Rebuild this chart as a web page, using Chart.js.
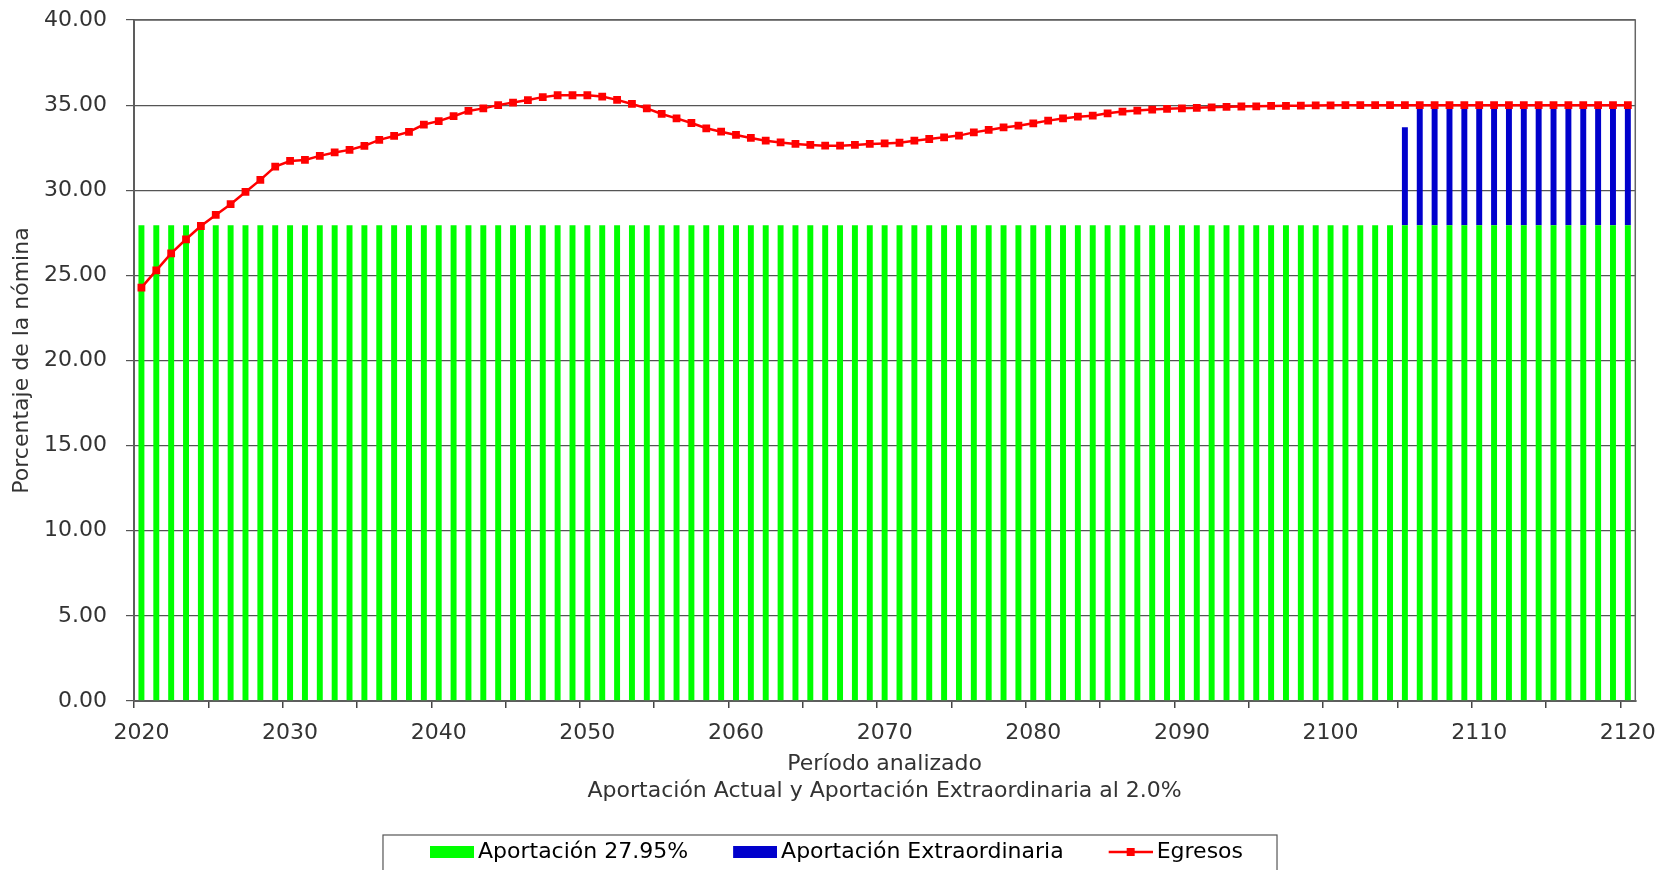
<!DOCTYPE html>
<html>
<head>
<meta charset="utf-8">
<script src="https://cdn.jsdelivr.net/npm/chart.js@4.4.1/dist/chart.umd.min.js"></script>
<style>
  html, body { margin: 0; padding: 0; background: #fff; }
  #wrap { width: 1668px; height: 870px; }
</style>
</head>
<body>
<div id="wrap"><canvas id="chart" width="1668" height="870"></canvas></div>
<script>
// years 2020..2120
const years = [];
for (let y = 2020; y <= 2120; y++) years.push(String(y));

const legendNames = ["Aportación 27.95%", "Aportación Extraordinaria", "Egresos"];
const yTicks = [0, 5, 10, 15, 20, 25, 30, 35, 40];

const aportacion = [
  27.95, 27.95, 27.95, 27.95, 27.95, 27.95, 27.95, 27.95, 27.95, 27.95,
  27.95, 27.95, 27.95, 27.95, 27.95, 27.95, 27.95, 27.95, 27.95, 27.95,
  27.95, 27.95, 27.95, 27.95, 27.95, 27.95, 27.95, 27.95, 27.95, 27.95,
  27.95, 27.95, 27.95, 27.95, 27.95, 27.95, 27.95, 27.95, 27.95, 27.95,
  27.95, 27.95, 27.95, 27.95, 27.95, 27.95, 27.95, 27.95, 27.95, 27.95,
  27.95, 27.95, 27.95, 27.95, 27.95, 27.95, 27.95, 27.95, 27.95, 27.95,
  27.95, 27.95, 27.95, 27.95, 27.95, 27.95, 27.95, 27.95, 27.95, 27.95,
  27.95, 27.95, 27.95, 27.95, 27.95, 27.95, 27.95, 27.95, 27.95, 27.95,
  27.95, 27.95, 27.95, 27.95, 27.95, 27.95, 27.95, 27.95, 27.95, 27.95,
  27.95, 27.95, 27.95, 27.95, 27.95, 27.95, 27.95, 27.95, 27.95, 27.95,
  27.95
];

const extraordinaria = [
  null, null, null, null, null, null, null, null, null, null,
  null, null, null, null, null, null, null, null, null, null,
  null, null, null, null, null, null, null, null, null, null,
  null, null, null, null, null, null, null, null, null, null,
  null, null, null, null, null, null, null, null, null, null,
  null, null, null, null, null, null, null, null, null, null,
  null, null, null, null, null, null, null, null, null, null,
  null, null, null, null, null, null, null, null, null, null,
  null, null, null, null, null, 5.75, 7.05, 7.05, 7.05, 7.05,
  7.05, 7.05, 7.05, 7.05, 7.05, 7.05, 7.05, 7.05, 7.05, 7.05,
  7.05
];

const egresos = [
  24.28, 25.29, 26.29, 27.12, 27.90, 28.55, 29.18, 29.90, 30.61, 31.39,
  31.72, 31.78, 32.02, 32.22, 32.37, 32.61, 32.96, 33.19, 33.43, 33.86,
  34.06, 34.35, 34.66, 34.81, 35.00, 35.15, 35.30, 35.47, 35.58, 35.58,
  35.58, 35.50, 35.31, 35.07, 34.81, 34.48, 34.22, 33.95, 33.64, 33.44,
  33.25, 33.07, 32.91, 32.81, 32.72, 32.66, 32.62, 32.62, 32.66, 32.72,
  32.75, 32.79, 32.91, 33.01, 33.11, 33.21, 33.40, 33.54, 33.69, 33.79,
  33.93, 34.09, 34.22, 34.32, 34.38, 34.52, 34.62, 34.68, 34.74, 34.78,
  34.81, 34.84, 34.87, 34.90, 34.92, 34.93, 34.95, 34.96, 34.97, 34.98,
  34.99, 35.00, 35.00, 35.00, 35.00, 35.00, 35.00, 35.00, 35.00, 35.00,
  35.00, 35.00, 35.00, 35.00, 35.00, 35.00, 35.00, 35.00, 35.00, 35.00,
  35.00
];

const GREEN = "#00ff00";
const BLUE = "#0000cc";
const RED = "#ff0000";
const FONT = "'DejaVu Sans', sans-serif";
const FS = 22;
const BOXW = 74;

// legend swatches drawn on small canvases
function swatch(kind, color) {
  const c = document.createElement("canvas");
  c.width = BOXW + 14;
  c.height = 14;
  const g = c.getContext("2d");
  const x0 = c.width - 44;
  if (kind === "bar") {
    g.fillStyle = color;
    g.fillRect(x0, 1, 44, 12);
  } else {
    g.strokeStyle = color;
    g.lineWidth = 2.5;
    g.beginPath();
    g.moveTo(x0, 7);
    g.lineTo(c.width, 7);
    g.stroke();
    g.fillStyle = color;
    g.fillRect(x0 + 18, 3, 8, 8);
  }
  return c;
}

const framePlugin = {
  id: "frame",
  afterDraw(chart) {
    const { ctx, chartArea: a } = chart;
    ctx.save();
    ctx.strokeStyle = "#666";
    ctx.lineWidth = 1.5;
    ctx.strokeRect(a.left, a.top, a.right - a.left, a.bottom - a.top);
    // legend border
    const hb = chart.legend.legendHitBoxes;
    if (hb && hb.length) {
      const first = hb[0], last = hb[hb.length - 1];
      const cy = first.top + first.height / 2;
      const left = first.left + BOXW / 2 - 47;
      const right = last.left + last.width + 34;
      ctx.strokeStyle = "#555";
      ctx.lineWidth = 1.2;
      ctx.strokeRect(left, cy - 17, right - left, 60);
    }
    ctx.restore();
  }
};

new Chart(document.getElementById("chart"), {
  type: "bar",
  data: {
    labels: years,
    datasets: [
      {
        type: "line",
        label: legendNames[2],
        data: egresos,
        borderColor: RED,
        backgroundColor: RED,
        borderWidth: 2.5,
        pointStyle: "rect",
        pointRadius: 5.5,
        pointBorderWidth: 0,
        tension: 0,
        stack: "line",
        order: 0
      },
      {
        label: legendNames[0],
        data: aportacion,
        backgroundColor: GREEN,
        barPercentage: 0.4,
        categoryPercentage: 1,
        stack: "bars",
        order: 1
      },
      {
        label: legendNames[1],
        data: extraordinaria,
        backgroundColor: BLUE,
        barPercentage: 0.4,
        categoryPercentage: 1,
        stack: "bars",
        order: 2
      }
    ]
  },
  options: {
    responsive: false,
    animation: false,
    layout: { padding: { top: 20, right: 32, left: 0, bottom: -3 } },
    plugins: {
      tooltip: { enabled: false },
      legend: {
        position: "bottom",
        labels: {
          usePointStyle: true,
          pointStyleWidth: BOXW,
          padding: 8,
          color: "#333",
          font: { family: FONT, size: FS },
          generateLabels(chart) {
            return [
              { text: legendNames[0], pointStyle: swatch("bar", GREEN), fillStyle: GREEN, strokeStyle: GREEN, lineWidth: 0, datasetIndex: 1, hidden: false },
              { text: legendNames[1], pointStyle: swatch("bar", BLUE), fillStyle: BLUE, strokeStyle: BLUE, lineWidth: 0, datasetIndex: 2, hidden: false },
              { text: legendNames[2], pointStyle: swatch("line", RED), fillStyle: RED, strokeStyle: RED, lineWidth: 0, datasetIndex: 0, hidden: false }
            ];
          }
        }
      }
    },
    scales: {
      x: {
        stacked: true,
        offset: true,
        afterFit(scale) { scale.height = 132; },
        grid: {
          offset: true,
          drawOnChartArea: false,
          drawTicks: true,
          tickLength: 7,
          color: (c) => (c.index % 5 === 0 ? "#444" : "rgba(0,0,0,0)"),
          lineWidth: 1.5
        },
        border: { display: true, color: "#444", width: 2 },
        ticks: {
          autoSkip: false,
          maxRotation: 0,
          padding: 12,
          color: "#333",
          font: { family: FONT, size: FS },
          callback: (v, i) => (Number(years[i]) % 10 === 0 ? years[i] : "")
        },
        title: {
          display: true,
          text: ["Período analizado", "Aportación Actual y Aportación Extraordinaria al 2.0%"],
          color: "#333",
          font: { family: FONT, size: FS, lineHeight: 1.23 },
          padding: { top: 2, bottom: 28 }
        }
      },
      y: {
        stacked: true,
        min: 0,
        max: 40,
        afterFit(scale) {
          scale.width = 134;
          scale.paddingTop = 0;
          scale.paddingBottom = 0;
        },
        afterBuildTicks(scale) { scale.ticks = yTicks.map(v => ({ value: v })); },
        grid: {
          color: "#555",
          lineWidth: 1.2,
          drawTicks: true,
          tickLength: 8
        },
        border: { display: true, color: "#444", width: 2 },
        ticks: {
          padding: 19,
          color: "#333",
          font: { family: FONT, size: FS },
          callback: (v) => Number(v).toFixed(2)
        },
        title: {
          display: true,
          text: "Porcentaje de la nómina",
          color: "#333",
          font: { family: FONT, size: FS },
          padding: { top: 9, bottom: 0 }
        }
      }
    }
  },
  plugins: [framePlugin]
});
</script>
</body>
</html>
